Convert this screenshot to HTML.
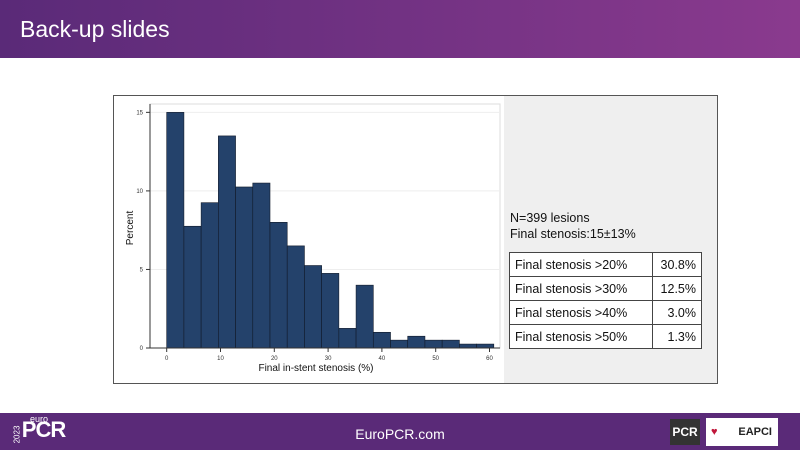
<!DOCTYPE html>
<html><head><meta charset="utf-8"><style>
body{margin:0;width:800px;height:450px;position:relative;background:#fff;font-family:"Liberation Sans",sans-serif;overflow:hidden}
.abs{position:absolute}
</style></head><body>
<div class="abs" style="left:0;top:0;width:800px;height:58px;background:linear-gradient(90deg,#5a2a78,#8a3a8e)"></div>
<div class="abs" style="left:20px;top:16px;color:#fff;font-size:23px;font-family:'Liberation Sans',sans-serif">Back-up slides</div>
<div class="abs" style="left:113px;top:95px;width:603px;height:287px;background:#efefef;border:1px solid #555"></div>
<div class="abs" style="left:114px;top:96px;width:390px;height:287px;background:#fff"></div>
<svg class="abs" style="left:0;top:0" width="800" height="450">
<g id="g"></g>
</svg>
<div class="abs" style="left:510px;top:210px;font-size:12.5px;line-height:16px;color:#111">N=399 lesions<br>Final stenosis:15±13%</div>
<table class="abs" style="left:509px;top:252px;width:193px;border-collapse:collapse;font-size:12.5px;color:#111;background:#fff">
<tr><td style="border:1px solid #444;height:23px;padding:0 5px">Final stenosis &gt;20%</td><td style="border:1px solid #444;text-align:right;padding:0 5px;width:38px">30.8%</td></tr>
<tr><td style="border:1px solid #444;height:23px;padding:0 5px">Final stenosis &gt;30%</td><td style="border:1px solid #444;text-align:right;padding:0 5px">12.5%</td></tr>
<tr><td style="border:1px solid #444;height:23px;padding:0 5px">Final stenosis &gt;40%</td><td style="border:1px solid #444;text-align:right;padding:0 5px">3.0%</td></tr>
<tr><td style="border:1px solid #444;height:23px;padding:0 5px">Final stenosis &gt;50%</td><td style="border:1px solid #444;text-align:right;padding:0 5px">1.3%</td></tr>
</table>
<div class="abs" style="left:0;top:413px;width:800px;height:37px;background:#5a2a78"></div>
<div class="abs" style="left:8px;top:417px;color:#fff;font-size:22px;font-weight:bold;letter-spacing:-1px"><span style="font-size:8px;display:inline-block;transform:rotate(-90deg);letter-spacing:0;font-weight:normal;margin-right:-4px">2023</span>PCR<span style="position:absolute;left:22px;top:-3px;font-size:9px;font-weight:normal;letter-spacing:0">euro</span></div>
<div class="abs" style="left:0;width:800px;top:426px;text-align:center;color:#fff;font-size:14px">EuroPCR.com</div>
<div class="abs" style="left:670px;top:419px;width:30px;height:26px;background:#333;color:#fff;font-size:12px;font-weight:bold;text-align:center;line-height:26px">PCR</div>
<div class="abs" style="left:706px;top:418px;width:72px;height:28px;background:#fff;color:#222;font-size:11px;font-weight:bold;line-height:28px;text-align:right;padding-right:6px;box-sizing:border-box"><span style="color:#c0163a;position:absolute;left:5px">♥</span>EAPCI</div>
<script>
const binStart=[0,3.2,6.4,9.6,12.8,16,19.2,22.4,25.6,28.8,32,35.2,38.4,41.6,44.8,48,51.2,54.4,57.6];
const percents=[15,7.75,9.25,13.5,10.25,10.5,8,6.5,5.25,4.75,1.25,4,1,0.5,0.75,0.5,0.5,0.25,0.25];
const binWidth=3.2;
const xTicks=[0,10,20,30,40,50,60];
const yTicks=[0,5,10,15];
const X=v=>166.7+v*5.38, Y=v=>348-v*15.71;
const g=document.getElementById('g'),NS='http://www.w3.org/2000/svg';
function mk(t,a){const e=document.createElementNS(NS,t);for(const k in a)e.setAttribute(k,a[k]);g.appendChild(e);return e;}
let fr=mk('rect',{x:150,y:104,width:350,height:244,fill:'none',stroke:'#ddd'});

yTicks.forEach(v=>{
 const l=mk('line',{x1:150,x2:500,y1:Y(v),y2:Y(v),stroke:'#eee'});
 
 const tk=mk('line',{x1:146,x2:150,y1:Y(v),y2:Y(v),stroke:'#333'});
 
 const t=mk('text',{x:143,y:Y(v)+2,'font-size':6,'text-anchor':'end',fill:'#333'});t.textContent=v;
 
});
binStart.forEach((s,i)=>{
 const r=mk('rect',{x:X(s),y:Y(percents[i]),width:X(s+binWidth)-X(s),height:Y(0)-Y(percents[i]),fill:'#24426b',stroke:'#111a2a','stroke-width':0.6});
 
});
let ax=mk('line',{x1:150,x2:500,y1:348,y2:348,stroke:'#333'});
let ay=mk('line',{x1:150,x2:150,y1:104,y2:348,stroke:'#333'});
xTicks.forEach(v=>{
 const tk=mk('line',{x1:X(v),x2:X(v),y1:348,y2:352,stroke:'#333'});
 
 const t=mk('text',{x:X(v),y:360,'font-size':6,'text-anchor':'middle',fill:'#333'});t.textContent=v;
 
});
let xt=mk('text',{x:316,y:371,'font-size':10,'text-anchor':'middle',fill:'#111'});xt.textContent='Final in-stent stenosis (%)';

let yt=mk('text',{x:0,y:0,'font-size':10,'text-anchor':'middle',fill:'#111',transform:'translate(133,228) rotate(-90)'});yt.textContent='Percent';

</script>
</body></html>
